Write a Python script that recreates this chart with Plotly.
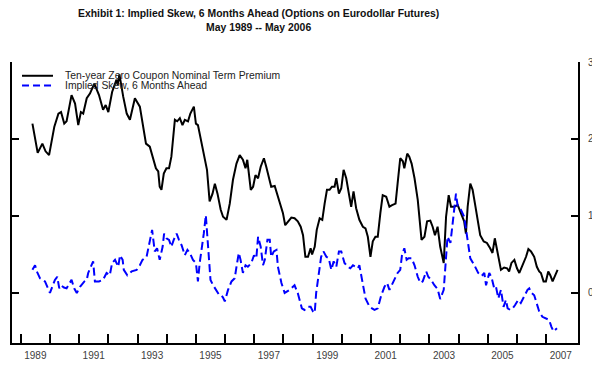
import plotly.graph_objects as go

# ---- data (decimal years) ----
term_dates = [1989.40, 1989.58, 1989.74, 1989.85, 1989.97, 1990.15, 1990.29, 1990.38, 1990.49, 1990.57,
              1990.74, 1990.86, 1990.97, 1991.06, 1991.14, 1991.26, 1991.37, 1991.52, 1991.68, 1991.82,
              1991.91, 1992.00, 1992.13, 1992.28, 1992.32, 1992.38, 1992.51, 1992.63, 1992.74, 1992.91,
              1993.08, 1993.19, 1993.29, 1993.42, 1993.53, 1993.63, 1993.71, 1993.76, 1993.82, 1993.90,
              1993.99, 1994.08, 1994.16, 1994.28, 1994.36, 1994.45, 1994.54, 1994.62, 1994.73, 1994.81,
              1994.93, 1995.00, 1995.07, 1995.19, 1995.30, 1995.38, 1995.47, 1995.57, 1995.65, 1995.74,
              1995.85, 1995.93, 1996.05, 1996.16, 1996.27, 1996.39, 1996.50, 1996.61, 1996.70, 1996.76,
              1996.88, 1996.96, 1997.04, 1997.13, 1997.22, 1997.33, 1997.41, 1997.49, 1997.58, 1997.70,
              1997.81, 1997.90, 1997.98, 1998.06, 1998.15, 1998.27, 1998.38, 1998.49, 1998.59, 1998.67,
              1998.75, 1998.84, 1998.93, 1998.98, 1999.07, 1999.14, 1999.24, 1999.33, 1999.41, 1999.49,
              1999.58, 1999.66, 1999.75, 1999.81, 1999.90, 1999.98, 2000.06, 2000.15, 2000.24, 2000.32,
              2000.40, 2000.49, 2000.60, 2000.72, 2000.81, 2000.89, 2000.98, 2001.06, 2001.15, 2001.23,
              2001.32, 2001.40, 2001.52, 2001.63, 2001.72, 2001.84, 2001.91, 2002.00, 2002.09, 2002.14,
              2002.24, 2002.31, 2002.39, 2002.49, 2002.60, 2002.66, 2002.73, 2002.83, 2002.92, 2003.03,
              2003.11, 2003.19, 2003.28, 2003.37, 2003.49, 2003.57, 2003.66, 2003.74, 2003.85, 2003.97,
              2004.08, 2004.19, 2004.25, 2004.31, 2004.40, 2004.48, 2004.56, 2004.65, 2004.74, 2004.86,
              2004.97, 2005.08, 2005.16, 2005.24, 2005.33, 2005.45, 2005.56, 2005.66, 2005.73, 2005.81,
              2005.91, 2006.00, 2006.08, 2006.19, 2006.31, 2006.39, 2006.48, 2006.59, 2006.68, 2006.76,
              2006.82, 2006.91, 2006.99, 2007.07, 2007.14, 2007.22, 2007.30, 2007.39]
term_premium = [2.20, 1.82, 1.94, 1.84, 1.79, 2.16, 2.33, 2.35, 2.20, 2.23,
                2.57, 2.46, 2.18, 2.35, 2.33, 2.53, 2.59, 2.72, 2.57, 2.38,
                2.44, 2.35, 2.61, 2.77, 2.70, 2.84, 2.55, 2.33, 2.25, 2.53,
                2.42, 2.18, 1.94, 1.90, 1.77, 1.62, 1.58, 1.38, 1.34, 1.55,
                1.62, 1.62, 1.77, 2.25, 2.23, 2.27, 2.18, 2.25, 2.23, 2.33,
                2.42, 2.20, 2.18, 1.94, 1.73, 1.60, 1.19, 1.29, 1.42, 1.29,
                1.08, 0.99, 0.95, 1.16, 1.47, 1.68, 1.79, 1.73, 1.62, 1.73,
                1.34, 1.38, 1.53, 1.49, 1.64, 1.75, 1.64, 1.53, 1.38, 1.39,
                1.25, 1.12, 1.04, 0.88, 0.93, 0.98, 0.97, 0.93, 0.86, 0.75,
                0.47, 0.47, 0.58, 0.50, 0.60, 0.82, 0.97, 0.95, 1.16, 1.34,
                1.34, 1.38, 1.38, 1.49, 1.29, 1.36, 1.60, 1.49, 1.29, 1.12,
                1.32, 1.10, 0.95, 0.86, 0.84, 0.73, 0.47, 0.67, 0.73, 0.73,
                1.04, 1.27, 1.25, 1.12, 1.14, 1.16, 1.42, 1.75, 1.71, 1.62,
                1.81, 1.77, 1.68, 1.49, 1.21, 0.99, 0.69, 0.73, 0.93, 0.94,
                0.86, 0.75, 0.86, 0.60, 0.39, 0.99, 1.27, 1.12, 1.12, 1.14,
                1.04, 0.93, 0.77, 1.12, 1.42, 1.34, 1.16, 0.95, 0.75, 0.67,
                0.65, 0.58, 0.52, 0.71, 0.52, 0.30, 0.33, 0.32, 0.28, 0.39,
                0.43, 0.32, 0.26, 0.36, 0.47, 0.57, 0.54, 0.47, 0.34, 0.28,
                0.26, 0.15, 0.15, 0.28, 0.23, 0.15, 0.23, 0.30]

skew_dates = [1989.40, 1989.49, 1989.55, 1989.66, 1989.83, 1990.00, 1990.08, 1990.17, 1990.25, 1990.32,
              1990.38, 1990.48, 1990.57, 1990.63, 1990.74, 1990.83, 1990.92, 1991.03, 1991.18, 1991.26,
              1991.31, 1991.40, 1991.48, 1991.54, 1991.68, 1991.82, 1991.94, 1992.05, 1992.13, 1992.23,
              1992.34, 1992.40, 1992.49, 1992.53, 1992.65, 1992.80, 1992.97, 1993.08, 1993.17, 1993.31,
              1993.42, 1993.50, 1993.59, 1993.67, 1993.76, 1993.86, 1993.91, 1993.99, 1994.08, 1994.16,
              1994.24, 1994.34, 1994.42, 1994.51, 1994.62, 1994.71, 1994.79, 1994.90, 1995.00, 1995.07,
              1995.13, 1995.22, 1995.27, 1995.34, 1995.38, 1995.45, 1995.50, 1995.59, 1995.70, 1995.79,
              1995.87, 1995.93, 1995.99, 1996.10, 1996.22, 1996.33, 1996.39, 1996.47, 1996.53, 1996.61,
              1996.70, 1996.78, 1996.90, 1996.99, 1997.07, 1997.13, 1997.22, 1997.30, 1997.36, 1997.45,
              1997.53, 1997.58, 1997.67, 1997.76, 1997.81, 1997.93, 1998.04, 1998.21, 1998.38, 1998.49,
              1998.63, 1998.72, 1998.84, 1998.93, 1999.01, 1999.07, 1999.12, 1999.21, 1999.29, 1999.37,
              1999.47, 1999.55, 1999.64, 1999.72, 1999.81, 1999.90, 1999.98, 2000.09, 2000.20, 2000.29,
              2000.38, 2000.47, 2000.55, 2000.60, 2000.70, 2000.81, 2000.95, 2001.12, 2001.23, 2001.35,
              2001.46, 2001.55, 2001.63, 2001.74, 2001.84, 2001.91, 2002.00, 2002.06, 2002.14, 2002.22,
              2002.29, 2002.39, 2002.49, 2002.60, 2002.69, 2002.77, 2002.89, 2002.96, 2003.06, 2003.17,
              2003.28, 2003.37, 2003.49, 2003.57, 2003.62, 2003.72, 2003.77, 2003.83, 2003.91, 2003.97,
              2004.08, 2004.19, 2004.29, 2004.40, 2004.54, 2004.67, 2004.79, 2004.88, 2004.94, 2005.05,
              2005.13, 2005.22, 2005.28, 2005.36, 2005.45, 2005.54, 2005.62, 2005.68, 2005.77, 2005.85,
              2005.93, 2006.04, 2006.13, 2006.25, 2006.36, 2006.42, 2006.50, 2006.59, 2006.68, 2006.76,
              2006.87, 2006.99, 2007.10, 2007.18, 2007.25, 2007.37]
implied_skew = [0.30, 0.36, 0.28, 0.19, 0.15, 0.00, 0.08, 0.17, 0.21, 0.06,
                0.10, 0.07, 0.06, 0.10, 0.17, 0.06, 0.00, 0.08, 0.15, 0.17,
                0.26, 0.34, 0.41, 0.15, 0.15, 0.17, 0.26, 0.23, 0.39, 0.43,
                0.34, 0.49, 0.43, 0.30, 0.23, 0.28, 0.30, 0.36, 0.43, 0.47,
                0.69, 0.82, 0.54, 0.58, 0.43, 0.60, 0.77, 0.71, 0.69, 0.60,
                0.69, 0.77, 0.69, 0.62, 0.49, 0.56, 0.52, 0.43, 0.39, 0.15,
                0.39, 0.60, 0.77, 1.01, 0.77, 0.43, 0.17, 0.10, 0.04, -0.02,
                -0.03, -0.06, -0.11, 0.04, 0.15, 0.19, 0.34, 0.52, 0.43, 0.26,
                0.36, 0.34, 0.39, 0.49, 0.45, 0.73, 0.60, 0.36, 0.43, 0.69,
                0.69, 0.47, 0.54, 0.56, 0.34, 0.13, 0.00, 0.04, 0.10, 0.00,
                -0.20, -0.22, -0.18, -0.18, -0.24, -0.26, 0.00, 0.26, 0.47, 0.54,
                0.47, 0.45, 0.30, 0.41, 0.34, 0.54, 0.54, 0.39, 0.34, 0.32,
                0.36, 0.34, 0.32, 0.36, 0.15, -0.07, -0.18, -0.22, -0.20, -0.03,
                0.08, 0.13, 0.04, 0.13, 0.19, 0.26, 0.30, 0.49, 0.58, 0.43,
                0.45, 0.45, 0.36, 0.21, 0.13, 0.15, 0.28, 0.21, 0.17, 0.10,
                0.05, -0.08, 0.04, 0.43, 0.73, 0.65, 0.82, 1.08, 1.29, 1.12,
                1.08, 0.99, 0.75, 0.45, 0.36, 0.26, 0.22, 0.26, 0.10, 0.26,
                0.20, 0.06, 0.08, -0.07, 0.04, -0.18, -0.09, -0.20, -0.22, -0.20,
                -0.16, -0.09, -0.13, -0.05, 0.04, 0.06, 0.00, -0.03, -0.16, -0.24,
                -0.31, -0.33, -0.35, -0.44, -0.50, -0.46]

year_ticks = list(range(1989, 2008))
label_years = [1989, 1991, 1993, 1995, 1997, 1999, 2001, 2003, 2005, 2007]
y_ticks = [0, 1, 2, 3]

series_names = ["Ten-year Zero Coupon Nominal Term Premium", "Implied Skew, 6 Months Ahead"]
title_lines = ["Exhibit 1: Implied Skew, 6 Months Ahead (Options on Eurodollar Futures)",
               "May 1989 -- May 2006"]

FONT = "Arial, Liberation Sans, sans-serif"

fig = go.Figure()
fig.add_trace(go.Scatter(x=term_dates, y=term_premium, mode="lines", name=series_names[0],
                         line=dict(color="black", width=2), showlegend=False))
fig.add_trace(go.Scatter(x=skew_dates, y=implied_skew, mode="lines", name=series_names[1],
                         line=dict(color="#0000ff", width=2, dash="8px,4px"), showlegend=False))

# manual legend (compact line spacing)
legend_y = [0.951, 0.916]
legend_styles = [dict(color="black", width=2), dict(color="#0000ff", width=2, dash="7px,4px")]
shapes = []
annotations = []
for name, ly, st in zip(series_names, legend_y, legend_styles):
    shapes.append(dict(type="line", xref="paper", yref="paper", x0=0.0177, x1=0.0724,
                       y0=ly, y1=ly, line=st))
    annotations.append(dict(text=name, xref="paper", yref="paper", x=0.0906, y=ly,
                            xanchor="left", yanchor="middle", showarrow=False,
                            font=dict(family=FONT, size=10.4, color="#222222")))

# title as annotation (two bold lines)
annotations.append(dict(text="<b>" + title_lines[0] + "</b><br><b>" + title_lines[1] + "</b>",
                        xref="paper", yref="paper", x=0.435, y=1.2, xanchor="center",
                        yanchor="top", showarrow=False, align="center",
                        font=dict(family=FONT, size=10.4, color="#111111")))

# the page body has an 8px margin, so the figure is 8px smaller and its margins compensate
fig.update_layout(
    width=592, height=361,
    margin=dict(l=4, r=22, t=54, b=26, autoexpand=False),
    paper_bgcolor="white", plot_bgcolor="white",
    font=dict(family=FONT),
    shapes=shapes, annotations=annotations,
    xaxis=dict(range=[1988.70, 2008.09], showgrid=False, zeroline=False, automargin=False,
               showline=True, linecolor="black", linewidth=1.8,
               tickmode="array", tickvals=[y + 0.5 for y in label_years],
               ticktext=[str(y) for y in label_years], ticks="",
               tickfont=dict(family=FONT, size=10, color="#404040"),
               ticklabelstandoff=2,
               minor=dict(tickmode="array", tickvals=year_ticks, ticks="inside",
                          ticklen=9, tickwidth=1.8, tickcolor="black", showgrid=False)),
    yaxis=dict(range=[-0.65, 3.0], side="right", showgrid=False, zeroline=False, automargin=False,
               showline=True, linecolor="black", linewidth=1.8, mirror="ticks",
               tickmode="array", tickvals=y_ticks, ticks="inside", ticklen=7,
               tickwidth=1.8, tickcolor="black",
               tickfont=dict(family=FONT, size=10, color="#404040"),
               ticklabelstandoff=6),
)

fig.write_html("out.html")
